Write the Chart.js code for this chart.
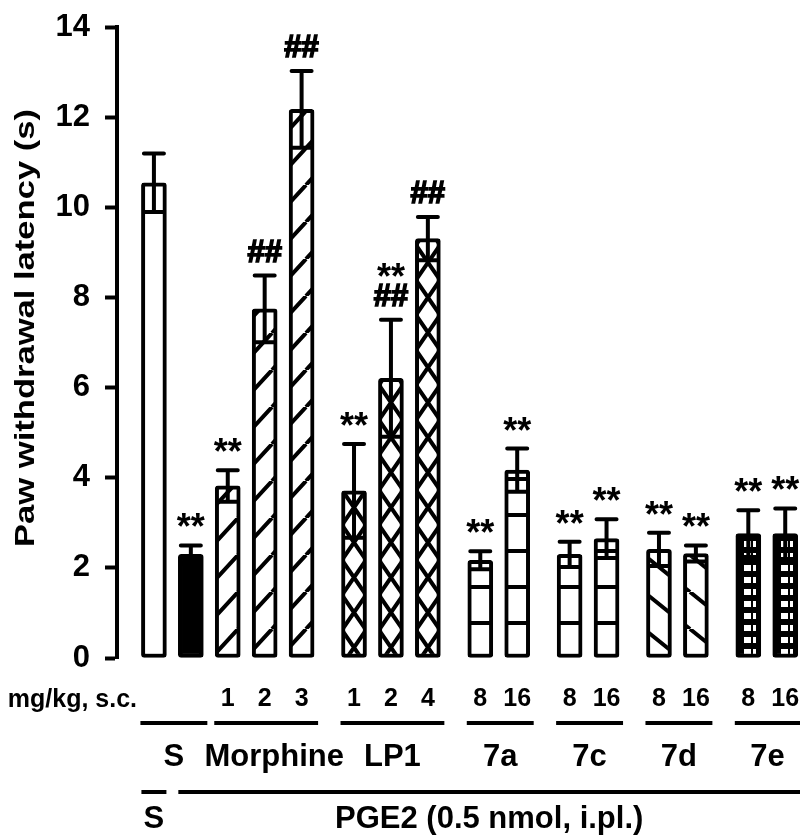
<!DOCTYPE html>
<html>
<head>
<meta charset="utf-8">
<script src="https://cdn.jsdelivr.net/npm/chart.js@4.4.1/dist/chart.umd.min.js"></script>
<style>
  html, body { margin: 0; padding: 0; background: #fff; }
</style>
</head>
<body>
<canvas id="myChart" width="800" height="838"></canvas>
<script>
// bars, left to right
const barNames = ['S', 'PGE2', 'Morphine 1', 'Morphine 2', 'Morphine 3', 'LP1 1', 'LP1 2', 'LP1 4',
  '7a 8', '7a 16', '7c 8', '7c 16', '7d 8', '7d 16', '7e 8', '7e 16'];
const doseLabels = ['', '', '1', '2', '3', '1', '2', '4', '8', '16', '8', '16', '8', '16', '8', '16'];
const latency = [10.55, 2.30, 3.82, 7.75, 12.18, 3.71, 6.21, 9.31, 2.17, 4.17, 2.30, 2.65, 2.41, 2.32, 2.76, 2.76];
const sem = [0.65, 0.20, 0.35, 0.74, 0.85, 1.04, 1.30, 0.48, 0.20, 0.48, 0.28, 0.43, 0.37, 0.18, 0.52, 0.56];
const starMarks = ['', '**', '**', '', '', '**', '**', '', '**', '**', '**', '**', '**', '**', '**', '**'];
const hashMarks = ['', '', '', '##', '##', '', '##', '##', '', '', '', '', '', '', '', ''];
const fillKinds = ['open', 'solid', 'slash', 'slash', 'slash', 'cross', 'cross', 'cross',
  'hline', 'hline', 'hline', 'hline', 'backslash', 'backslash', 'grid', 'grid'];

// groups under the axis: [label, first bar, last bar]
const drugGroups = [['S', 0, 1], ['Morphine', 2, 4], ['LP1', 5, 7], ['7a', 8, 9], ['7c', 10, 11], ['7d', 12, 13], ['7e', 14, 15]];
const injGroups = [['S', 0, 0], ['PGE2 (0.5 nmol, i.pl.)', 1, 15]];
// bars that open a new (wider spaced) cluster
const clusterStarts = [5, 8, 10, 12, 14];

const FONT = '"Liberation Sans", Arial, sans-serif';
const CLUSTER_GAP = 0.42;
const xPos = barNames.map((n, i) => i + CLUSTER_GAP * clusterStarts.filter(s => s <= i).length);

function makePattern(w, h, draw) {
  const c = document.createElement('canvas');
  c.width = w; c.height = h;
  const g = c.getContext('2d');
  g.fillStyle = '#fff';
  g.fillRect(0, 0, w, h);
  g.strokeStyle = '#000';
  g.fillStyle = '#000';
  g.lineWidth = 4;
  draw(g, w, h);
  return g.createPattern(c, 'repeat');
}

const ctx = document.getElementById('myChart').getContext('2d');

const fills = {
  open: '#fff',
  solid: '#000',
  slash: makePattern(34, 37, (g, w, h) => {
    g.beginPath();
    for (let k = -1; k <= 1; k++) { g.moveTo(k * w, h); g.lineTo(k * w + w, 0); }
    g.stroke();
  }),
  backslash: makePattern(46, 37, (g, w, h) => {
    g.beginPath();
    for (let k = -1; k <= 1; k++) { g.moveTo(k * w, 0); g.lineTo(k * w + w, h); }
    g.stroke();
  }),
  cross: makePattern(37, 35, (g, w, h) => {
    g.beginPath();
    g.moveTo(9, 0); g.lineTo(33, h);
    g.moveTo(33, 0); g.lineTo(9, h);
    g.stroke();
  }),
  hline: makePattern(37, 36, (g, w, h) => {
    g.fillRect(0, 9, w, 4);
  }),
  grid: makePattern(37, 12, (g, w, h) => {
    g.fillRect(0, 0, w, h);
    g.fillStyle = '#fff';
    g.fillRect(4, 1, 7, 6);
    g.fillRect(13, 1, 3, 6);
  })
};

const extras = {
  id: 'extras',
  afterDatasetsDraw(chart) {
    const c = chart.ctx;
    const bars = chart.getDatasetMeta(0).data;
    const y = chart.scales.y;
    c.save();
    c.strokeStyle = '#000';
    c.fillStyle = '#000';
    c.lineWidth = 4;
    c.lineCap = 'round';
    bars.forEach((bar, i) => {
      const hi = y.getPixelForValue(latency[i] + sem[i]);
      const lo = y.getPixelForValue(latency[i] - sem[i]);
      c.beginPath();
      c.moveTo(bar.x, hi); c.lineTo(bar.x, lo);
      c.moveTo(bar.x - 10, hi); c.lineTo(bar.x + 10, hi);
      c.moveTo(bar.x - 10, lo); c.lineTo(bar.x + 10, lo);
      c.stroke();
    });

    c.textAlign = 'center';
    c.textBaseline = 'alphabetic';
    c.lineWidth = 1.6;
    c.lineCap = 'butt';
    bars.forEach((bar, i) => {
      const hi = y.getPixelForValue(latency[i] + sem[i]);
      let base = hi - 6;
      if (hashMarks[i]) {
        c.font = 'bold 31px ' + FONT;
        c.fillText(hashMarks[i], bar.x, hi - 14);
        c.strokeText(hashMarks[i], bar.x, hi - 14);
        base = hi - 31;
      }
      if (starMarks[i]) {
        c.font = 'bold 36px ' + FONT;
        c.fillText(starMarks[i], bar.x, base);
      }
    });
    c.restore();
  },
  afterDraw(chart) {
    const c = chart.ctx;
    const bars = chart.getDatasetMeta(0).data;
    const right = chart.width;
    c.save();
    c.fillStyle = '#000';

    // y axis title, drawn a bit stretched along its length like the original
    c.save();
    c.translate(26, 328);
    c.rotate(-Math.PI / 2);
    c.font = 'bold 28px ' + FONT;
    const tw = c.measureText('Paw withdrawal latency (s)').width;
    c.scale(438 / tw, 1);
    c.textAlign = 'center';
    c.textBaseline = 'middle';
    c.fillText('Paw withdrawal latency (s)', 0, 0);
    c.restore();

    // dose row
    c.font = 'bold 25px ' + FONT;
    c.textBaseline = 'middle';
    c.textAlign = 'right';
    c.fillText('mg/kg, s.c.', 137, 700);
    c.textAlign = 'center';
    bars.forEach((bar, i) => c.fillText(doseLabels[i], bar.x, 699));

    const half = 12.5;
    const segment = (a, b, yy) => {
      c.fillRect(a, yy - 2, Math.min(b, right) - a, 4);
    };

    // drug groups
    c.font = 'bold 31px ' + FONT;
    drugGroups.forEach(([label, f, l]) => {
      const a = bars[f].x - half - 1;
      const b = bars[l].x + half + 4;
      segment(a, b, 723);
      c.fillText(label, (a + Math.min(b, right)) / 2 + (label.length > 3 ? 8 : 0), 757);
    });

    // injection groups
    injGroups.forEach(([label, f, l]) => {
      const a = bars[f].x - half;
      const b = f === l ? bars[l].x + half : right;
      segment(a, b, 792);
      c.fillText(label, (a + b) / 2, 819);
    });
    c.restore();
  }
};

new Chart(ctx, {
  type: 'bar',
  data: {
    labels: barNames,
    datasets: [{
      label: 'Paw withdrawal latency',
      data: xPos.map((x, i) => ({ x: x, y: latency[i] })),
      backgroundColor: fillKinds.map(k => fills[k]),
      borderColor: '#000',
      borderWidth: 4,
      borderRadius: 3,
      borderSkipped: false,
      barThickness: 25
    }]
  },
  options: {
    responsive: false,
    animation: false,
    layout: { padding: { left: 0, right: 0, top: 13, bottom: 180 } },
    plugins: {
      legend: { display: false },
      tooltip: { enabled: false }
    },
    scales: {
      x: {
        type: 'linear',
        offset: false,
        min: -1,
        max: 17.5,
        display: false
      },
      y: {
        min: 0,
        max: 14,
        afterFit(scale) { scale.width = 117; },
        border: { display: true, color: '#000', width: 4 },
        grid: { drawOnChartArea: false, tickLength: 12, tickWidth: 4, tickColor: '#000' },
        ticks: {
          stepSize: 2,
          padding: 15,
          color: '#000',
          font: { family: FONT, size: 31, weight: 'bold', lineHeight: 0.8 }
        }
      }
    }
  },
  plugins: [extras]
});
</script>
</body>
</html>
